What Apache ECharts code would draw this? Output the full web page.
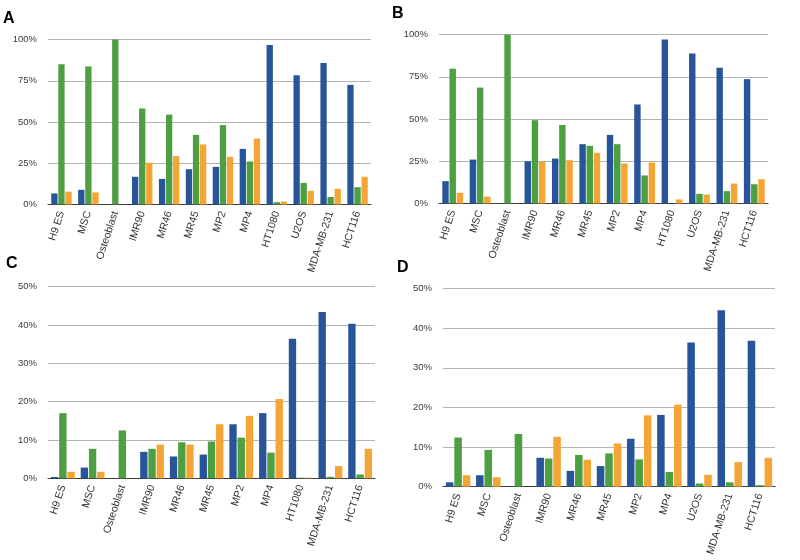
<!DOCTYPE html>
<html>
<head>
<meta charset="utf-8">
<script src="https://cdn.jsdelivr.net/npm/echarts@6/dist/echarts.min.js"></script>
<style>html,body{margin:0;padding:0;background:#fff;}#c{width:800px;height:560px;}</style>
</head>
<body>
<div id="c"></div>
<script>
// Categories
const catsAB = ['H9 ES','MSC','Osteoblast','IMR90','MR46','MR45','MP2','MP4','HT1080','U2OS','MDA-MB-231','HCT116'];
const catsC  = ['H9 ES','MSC','Osteoblast','IMR90','MR46','MR45','MP2','MP4','HT1080','MDA-MB-231','HCT116'];
const catsD  = ['H9 ES','MSC','Osteoblast','IMR90','MR46','MR45','MP2','MP4','U2OS','MDA-MB-231','HCT116'];

// Panel A values (%)
const aBlue   = [6.7, 8.9, 0, 16.8, 15.5, 21.4, 22.8, 33.7, 96.6, 78.4, 85.7, 72.5];
const aGreen  = [85, 83.6, 100, 58.2, 54.5, 42.2, 48.1, 26.1, 1.4, 13.1, 4.6, 10.5];
const aOrange = [7.8, 7.3, 0, 25.3, 29.3, 36.4, 28.9, 40, 1.8, 8.3, 9.5, 16.8];

// Panel B values (%)
const bBlue   = [13.2, 26, 0, 25, 26.6, 35.1, 40.6, 58.6, 97, 88.8, 80.3, 73.6];
const bGreen  = [79.7, 68.6, 100, 49.3, 46.5, 34.1, 35.1, 16.6, 0, 5.7, 7.3, 11.4];
const bOrange = [6.3, 4.1, 0, 24.7, 25.6, 30, 23.7, 24.3, 2.4, 5.3, 11.8, 14.4];

// Panel C values (%)
const cBlue   = [0.35, 2.8, 0, 6.9, 5.7, 6.2, 14.1, 17, 36.4, 43.4, 40.3];
const cGreen  = [17, 7.7, 12.5, 7.7, 9.4, 9.6, 10.6, 6.7, 0.15, 0.4, 1];
const cOrange = [1.7, 1.7, 0, 8.8, 8.8, 14.1, 16.3, 20.7, 0.15, 3.2, 7.7];

// Panel D values (%)
const dBlue   = [1.1, 2.9, 0, 7.3, 4.0, 5.2, 12.1, 18.1, 36.4, 44.5, 36.8];
const dGreen  = [12.4, 9.3, 13.3, 7.1, 8.0, 8.4, 6.9, 3.7, 0.8, 1.1, 0.4];
const dOrange = [2.9, 2.4, 0, 12.6, 6.8, 10.9, 18, 20.7, 3, 6.2, 7.3];

// Axis ticks
const abMax = 100, abInterval = 25;
const cdMax = 50,  cdInterval = 10;

const colors = ['#28559a', '#4d9f42', '#f5a536'];
const FONT = 'Liberation Sans, Arial, Helvetica, sans-serif';

const grids = [
  {left: 48,  top: 39.5, width: 323, height: 165},
  {left: 439, top: 34.5, width: 329, height: 169},
  {left: 48,  top: 286.7, width: 327, height: 191.6},
  {left: 443, top: 288.5, width: 332, height: 198.2}
];
const catSets = [catsAB, catsAB, catsC, catsD];
const maxes = [abMax, abMax, cdMax, cdMax];
const intervals = [abInterval, abInterval, cdInterval, cdInterval];
const data = [
  [aBlue, aGreen, aOrange],
  [bBlue, bGreen, bOrange],
  [cBlue, cGreen, cOrange],
  [dBlue, dGreen, dOrange]
];
const catGaps = ['24%', '24%', '20%', '19%'];

const xAxis = [], yAxis = [], series = [];
for (let i = 0; i < 4; i++) {
  xAxis.push({
    type: 'category', gridIndex: i, data: catSets[i],
    axisTick: {show: false},
    axisLine: {show: true, lineStyle: {color: '#3c3c3c', width: 1.2}},
    axisLabel: {rotate: 72, interval: 0, fontSize: 10.5, color: '#333', fontFamily: FONT, margin: 7}
  });
  yAxis.push({
    type: 'value', gridIndex: i, min: 0, max: maxes[i], interval: intervals[i],
    axisLine: {show: false}, axisTick: {show: false},
    splitLine: {lineStyle: {color: '#b4b4b4', width: 1}},
    axisLabel: {formatter: '{value}%', fontSize: 9.5, color: '#3a3a3a', fontFamily: FONT, margin: 11}
  });
  for (let s = 0; s < 3; s++) {
    series.push({
      type: 'bar', xAxisIndex: i, yAxisIndex: i, data: data[i][s],
      itemStyle: {color: colors[s]},
      barGap: '12%', barCategoryGap: catGaps[i],
      animation: false
    });
  }
}

const letterStyle = {fontSize: 16, fontWeight: 'bold', fill: '#000', fontFamily: FONT};
const option = {
  animation: false,
  grid: grids,
  xAxis: xAxis,
  yAxis: yAxis,
  series: series,
  graphic: [
    {type: 'text', left: 3, top: 11, style: Object.assign({text: 'A'}, letterStyle)},
    {type: 'text', left: 392, top: 6, style: Object.assign({text: 'B'}, letterStyle)},
    {type: 'text', left: 6, top: 256, style: Object.assign({text: 'C'}, letterStyle)},
    {type: 'text', left: 397, top: 260, style: Object.assign({text: 'D'}, letterStyle)}
  ]
};
const chart = echarts.init(document.getElementById('c'), null, {renderer: 'canvas'});
chart.setOption(option);
</script>
</body>
</html>
